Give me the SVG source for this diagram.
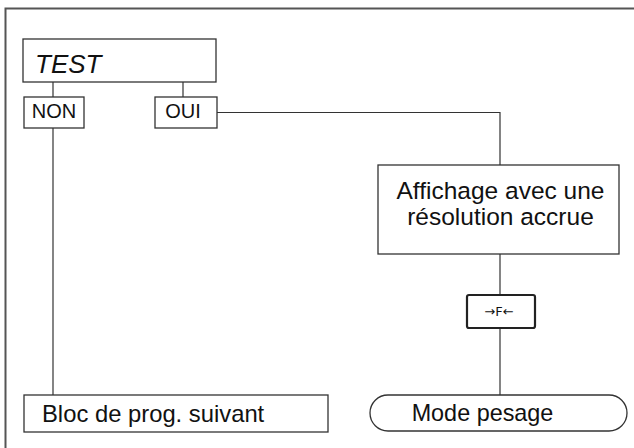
<svg xmlns="http://www.w3.org/2000/svg" width="634" height="448" viewBox="0 0 634 448">
<style>
.box{fill:#fff;stroke:#333;stroke-width:1.3}
.conn{fill:none;stroke:#333;stroke-width:1.2}
.t{font-family:"Liberation Sans",Arial,sans-serif;fill:#111}
</style>
<rect width="634" height="448" fill="#fff"/>
<path d="M5.5,448 V8.5 H634" fill="none" stroke="#555" stroke-width="2"/>
<g id="connectors" class="conn">
<path d="M53,82 V97"/>
<path d="M183,82 V97"/>
<path d="M53,128 V395"/>
<path d="M217,112.5 H500 V165"/>
<path d="M500,254 V295"/>
<path d="M500,328 V395"/>
</g>
<g id="test">
<rect class="box" x="23" y="39" width="193" height="43"/>
<text class="t" x="35" y="73" font-size="26" font-style="italic">TEST</text>
</g>
<g id="non">
<rect class="box" x="24" y="97" width="60" height="31"/>
<text class="t" x="54" y="118" font-size="20" text-anchor="middle">NON</text>
</g>
<g id="oui">
<rect class="box" x="155" y="97" width="62" height="31"/>
<text class="t" x="183" y="118" font-size="20" text-anchor="middle">OUI</text>
</g>
<g id="affichage">
<rect class="box" x="378" y="165" width="241" height="89"/>
<text class="t" x="500.5" y="199" font-size="24.5" text-anchor="middle">Affichage avec une</text>
<text class="t" x="500.5" y="225" font-size="24.5" text-anchor="middle">résolution accrue</text>
</g>
<g id="key">
<rect x="467" y="295" width="68" height="33" rx="2" fill="#fff" stroke="#222" stroke-width="2.2"/>
<text x="499" y="316" font-size="13" text-anchor="middle" font-family="DejaVu Sans,sans-serif" fill="#111">→F←</text>
</g>
<g id="bloc">
<rect class="box" x="24" y="395" width="304" height="37"/>
<text class="t" x="42" y="422" font-size="23.8">Bloc de prog. suivant</text>
</g>
<g id="mode">
<rect class="box" x="370" y="395" width="257" height="36" rx="18"/>
<text class="t" x="482.5" y="421" font-size="23.4" text-anchor="middle">Mode pesage</text>
</g>
</svg>
